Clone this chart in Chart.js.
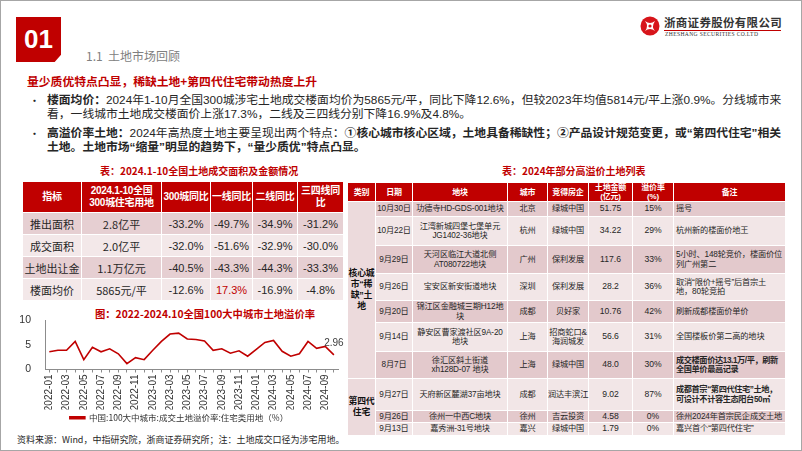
<!DOCTYPE html>
<html>
<head>
<meta charset="utf-8">
<script src="https://cdn.jsdelivr.net/npm/chart.js@4.4.0/dist/chart.umd.min.js"></script>
<style>
body { margin:0; width:802px; height:451px; overflow:hidden; background:#fff;
       font-family:"Noto Sans CJK SC","Noto Sans",sans-serif; color:#262626; }
#slide { position:absolute; left:0; top:0; width:800px; height:449px; border:1px solid #a6a6a6; }
.abs { position:absolute; white-space:nowrap; }
#num { left:16px; top:17px; width:45px; height:45px; background:#c00000; color:#fff;
       font:bold 26px "Liberation Sans",sans-serif; line-height:45px; text-align:center;
       clip-path:polygon(0 0,100% 0,100% 84%,86% 100%,0 100%); }
#sec { left:86px; top:47px; font-size:12px; color:#808080; }
#logoTxt { left:664px; top:14px; font-weight:bold; font-size:11.5px; letter-spacing:0.3px; color:#333; }
#logoLine { left:664px; top:30px; width:117px; height:1px; background:#c00000; }
#logoEn { left:665px; top:31px; font:5.6px "Liberation Serif",serif; letter-spacing:0.35px; color:#333; }
#head { left:27px; top:72px; font-weight:bold; font-size:11.8px; color:#c00000; }
.para { left:47px; font-size:11.8px; line-height:14px; height:14px; font-family:"Liberation Sans","Noto Sans CJK SC",sans-serif; }
.dot { left:29px; font-size:11px; line-height:14px; }
.ttl { font-weight:bold; font-size:10px; color:#c00000; }
table { position:absolute; border-collapse:collapse; table-layout:fixed; }
td, th { padding:0; border:1px solid #fff; text-align:center; }
#t1 { left:22px; top:181px; width:321px; font-family:"Liberation Sans","Noto Sans CJK SC",sans-serif; font-size:11px; }
#t1 th { background:#c00000; color:#fff; font-size:10px; line-height:12px; height:30px; letter-spacing:-0.3px;
         font-family:"Liberation Sans","Noto Sans CJK SC",sans-serif; white-space:nowrap; }
#t1 td { height:21px; }
#t1 td.lab { font-family:"Noto Sans CJK SC",sans-serif; }
#t2 { left:347px; top:182px; width:438px; font-size:8.2px; line-height:9.4px; letter-spacing:-0.15px;
      font-family:"Liberation Sans","Noto Sans CJK SC",sans-serif; }
#t2 th { background:#c00000; color:#fff; font-size:8px; line-height:9px; height:17px; white-space:nowrap; }
#t2 td { white-space:pre; }
#t2 td.note { text-align:left; padding-left:2px; }
#t2 td.cat { background:#ecdadc; font-weight:bold; font-size:8.8px; line-height:11px; color:#111; }
#t2 td.num { font-size:8.6px; letter-spacing:0; }
#chartBox { position:absolute; left:18px; top:308px; width:330px; height:124px; }
#src { left:17px; top:433px; font-size:9px; color:#262626; }
</style>
</head>
<body>
<div id="slide"></div>
<div class="abs" id="num">01</div>
<div class="abs" id="sec">1.1&nbsp;&nbsp;土地市场回顾</div>
<svg class="abs" style="left:640px;top:16px" width="20" height="20" viewBox="0 0 20 20">
  <circle cx="10" cy="10" r="9.5" fill="#d7141a"/>
  <path d="M5 5 Q10 9 15 5 Q11 11 15 15 Q10 11 5 15 Q9 10 5 5Z" fill="#fff"/>
  <circle cx="10" cy="10" r="1.6" fill="#d7141a"/>
</svg>
<div class="abs" id="logoTxt">浙商证券股份有限公司</div>
<div class="abs" id="logoLine"></div>
<div class="abs" id="logoEn">ZHESHANG SECURITIES CO.LTD</div>

<div class="abs" id="head">量少质优特点凸显，稀缺土地+第四代住宅带动热度上升</div>
<div class="abs dot" style="top:93px">•</div>
<div class="abs para" style="top:93px"><b>楼面均价：</b>2024年1-10月全国300城涉宅土地成交楼面均价为5865元/平，同比下降12.6%，但较2023年均值5814元/平上涨0.9%。分线城市来</div>
<div class="abs para" style="top:107px">看，一线城市土地成交楼面价上涨17.3%，二线及三四线分别下降16.9%及4.8%。</div>
<div class="abs dot" style="top:126px">•</div>
<div class="abs para" style="top:126px"><b>高溢价率土地：</b>2024年高热度土地主要呈现出两个特点：<b>①核心城市核心区域，土地具备稀缺性；②产品设计规范变更，或“第四代住宅”相关</b></div>
<div class="abs para" style="top:140px"><b>土地。土地市场“缩量”明显的趋势下，“量少质优”特点凸显。</b></div>

<div class="abs ttl" style="left:100px;top:163px">表：2024.1-10全国土地成交面积及金额情况</div>
<table id="t1"></table>

<div class="abs ttl" style="left:502px;top:163px">表：2024年部分高溢价土地列表</div>
<table id="t2"></table>

<div class="abs ttl" style="left:95px;top:306px;font-size:10.3px">图：2022-2024.10全国100大中城市土地溢价率</div>
<div id="chartBox"><canvas id="chart" width="330" height="124"></canvas></div>
<div class="abs" id="src">资料来源：Wind，中指研究院，浙商证券研究所；注：土地成交口径为涉宅用地。</div>

<script>
// table 1: 2024.1-10 land transactions
var t1Head = ['指标', '2024.1-10全国<br>300城住宅用地', '300城同比', '一线同比', '二线同比', '三四线同<br>比'];
var t1Widths = [59, 80, 49, 42, 45, 46];
var t1Labels = ['推出面积', '成交面积', '土地出让金', '楼面均价'];
var t1Total = ['2.8亿平', '2.0亿平', '1.1万亿元', '5865元/平'];
var t1All = ['-33.2%', '-32.0%', '-40.5%', '-12.6%'];
var t1Tier1 = ['-49.7%', '-51.6%', '-43.3%', '17.3%'];
var t1Tier2 = ['-34.9%', '-32.9%', '-44.3%', '-16.9%'];
var t1Tier34 = ['-31.2%', '-30.0%', '-33.3%', '-4.8%'];

// table 2: high premium land parcels
var t2Head = ['类别', '日期', '地块', '城市', '竞得房企', '土地金额<br>(亿元)', '溢价率<br>(%)', '备注'];
var t2Widths = [28, 37, 95, 40, 41, 44, 41, 112];
var t2Dates = ['10月30日', '10月22日', '9月29日', '9月26日', '9月20日', '9月14日', '8月7日', '9月27日', '9月26日', '9月13日'];
var t2Plots = ['功德寺HD-GDS-001地块', '江湾新城四堡七堡单元\nJG1402-36地块', '天河区临江大道北侧\nAT080722地块', '宝安区新安街道地块',
  '锦江区金融城三期H12地\n块', '静安区曹家渡社区9A-20\n地块', '徐汇区斜土街道\nxh128D-07 地块', '天府新区麓湖37亩地块', '徐州一中西C地块', '嘉秀洲-31号地块'];
var t2Cities = ['北京', '杭州', '广州', '深圳', '成都', '上海', '上海', '成都', '徐州', '嘉兴'];
var t2Buyers = ['绿城中国', '绿城中国', '保利发展', '保利发展', '贝好家', '招商蛇口&\n海润城发', '绿城中国', '润达丰滨江', '吉云投资', '绿城中国'];
var t2Amount = ['51.75', '34.22', '117.6', '28.2', '10.76', '56.6', '48.0', '9.02', '4.58', '1.79'];
var t2Premium = ['15%', '29%', '33%', '36%', '42%', '31%', '30%', '87%', '0%', '0%'];
var t2Notes = ['摇号', '杭州新的楼面价地王', '5小时、148轮竞价，楼面价位\n列广州第二', '取消“限价+摇号”后首宗土\n地，80轮竞拍',
  '刷新成都楼面价单价', '全国楼板价第二高的地块', '成交楼面价达13.1万/平，刷新\n全国单价最高记录',
  '成都首宗“第四代住宅”土地，\n可设计不计容生态阳台50㎡', '徐州2024年首宗民企成交土地', '嘉兴首个“第四代住宅”'];
var t2BoldNotes = [6, 7];
var t2Heights = [15, 29, 28, 27, 22, 29, 27, 32, 12, 13];
var t2Groups = [['核心城\n市“稀\n缺”土\n地', 7], ['第四代\n住宅', 3]];

// chart: land premium rate, 100 cities
var months = ['2022-01','2022-02','2022-03','2022-04','2022-05','2022-06','2022-07','2022-08','2022-09','2022-10','2022-11','2022-12',
  '2023-01','2023-02','2023-03','2023-04','2023-05','2023-06','2023-07','2023-08','2023-09','2023-10','2023-11','2023-12',
  '2024-01','2024-02','2024-03','2024-04','2024-05','2024-06','2024-07','2024-08','2024-09','2024-10'];
var premiumRate = [3.6, 3.9, 3.9, 5.7, 2.0, 4.5, 3.6, 4.2, 3.2, 1.2, 2.4, 2.0,
  3.9, 5.7, 7.2, 7.4, 6.2, 6.1, 5.8, 3.9, 4.2, 3.3, 3.8, 2.7,
  4.1, 5.5, 5.9, 3.7, 2.7, 3.2, 5.7, 4.3, 4.7, 2.96];
var seriesName = '中国:100大中城市:成交土地溢价率:住宅类用地（%）';

var dark = '#e6cfd2', light = '#f3e8e9';

function buildT1() {
    var h = '<colgroup>';
    for (var i = 0; i < t1Widths.length; i++) h += '<col style="width:' + t1Widths[i] + 'px">';
    h += '</colgroup><tr>';
    for (var i = 0; i < t1Head.length; i++) h += '<th>' + t1Head[i] + '</th>';
    h += '</tr>';
    for (var r = 0; r < t1Labels.length; r++) {
        var bg = r % 2 == 0 ? dark : light;
        var cells = [t1Total[r], t1All[r], t1Tier1[r], t1Tier2[r], t1Tier34[r]];
        h += '<tr style="background:' + bg + '"><td class="lab">' + t1Labels[r] + '</td>';
        for (var c = 0; c < cells.length; c++) {
            var red = cells[c].charAt(0) != '-' && c == 2 ? ' style="color:#c00000"' : '';
            h += '<td' + (c == 0 ? ' class="lab"' : '') + red + '>' + cells[c] + '</td>';
        }
        h += '</tr>';
    }
    document.getElementById('t1').innerHTML = h;
}

function buildT2() {
    var h = '<colgroup>';
    for (var i = 0; i < t2Widths.length; i++) h += '<col style="width:' + t2Widths[i] + 'px">';
    h += '</colgroup><tr>';
    for (var i = 0; i < t2Head.length; i++) h += '<th>' + t2Head[i] + '</th>';
    h += '</tr>';
    var g = 0, start = 0;
    for (var r = 0; r < t2Dates.length; r++) {
        var bg = r % 2 == 0 ? '#e3c9cc' : '#f2e6e7';
        h += '<tr style="background:' + bg + ';height:' + t2Heights[r] + 'px">';
        if (r == start) {
            h += '<td class="cat" rowspan="' + t2Groups[g][1] + '">' + t2Groups[g][0] + '</td>';
            start += t2Groups[g][1];
            g++;
        }
        var bold = t2BoldNotes.indexOf(r) >= 0 ? ';font-weight:bold;letter-spacing:-0.4px' : '';
        h += '<td>' + t2Dates[r] + '</td><td>' + t2Plots[r] + '</td><td>' + t2Cities[r] + '</td><td>' + t2Buyers[r] +
             '</td><td class="num">' + t2Amount[r] + '</td><td class="num">' + t2Premium[r] +
             '</td><td class="note" style="color:#262626' + bold + '">' + t2Notes[r] + '</td></tr>';
    }
    document.getElementById('t2').innerHTML = h;
}

buildT1();
buildT2();

// label on the last point
var lastLabel = {
    id: 'lastLabel',
    afterDatasetsDraw: function(chart) {
        var meta = chart.getDatasetMeta(0);
        var pt = meta.data[meta.data.length - 1];
        var c = chart.ctx;
        c.save();
        c.font = '10px "Liberation Sans", sans-serif';
        c.fillStyle = '#404040';
        c.textAlign = 'center';
        c.textBaseline = 'bottom';
        c.fillText(premiumRate[premiumRate.length - 1].toFixed(2), pt.x, pt.y - 7);
        c.restore();
    }
};

var ctx = document.getElementById('chart');
var chart = new Chart(ctx, {
    type: 'line',
    data: {
        labels: months,
        datasets: [{
            label: seriesName,
            data: premiumRate,
            borderColor: '#c00000',
            backgroundColor: '#c00000',
            borderWidth: 1.6,
            pointRadius: 0,
            tension: 0,
            fill: false
        }]
    },
    options: {
        responsive: false,
        animation: false,
        layout: { padding: { top: 0, right: 8, left: 0, bottom: 0 } },
        plugins: {
            legend: {
                position: 'bottom',
                labels: { boxWidth: 15, boxHeight: 2, padding: 4, color: '#333',
                          font: { size: 8.5, family: '"Noto Sans CJK SC", sans-serif' } }
            },
            tooltip: { enabled: false }
        },
        scales: {
            x: {
                offset: true,
                grid: { display: true, drawOnChartArea: false, tickLength: 3, color: '#8c8c8c' },
                border: { color: '#8c8c8c' },
                ticks: {
                    autoSkip: false, maxRotation: 90, minRotation: 90, padding: 2,
                    color: '#333', font: { size: 10, family: '"Liberation Sans", sans-serif' },
                    callback: function(v, i) { return i % 2 == 0 ? this.getLabelForValue(v) : ''; }
                },
                afterFit: function(s) { s.height = 40; }
            },
            y: {
                min: 0, max: 10,
                grid: { display: false },
                border: { display: true, color: '#8c8c8c' },
                ticks: { stepSize: 5, padding: 6, color: '#333', font: { size: 10.5, family: '"Liberation Sans", sans-serif' } },
                afterFit: function(s) { s.width = 27; }
            }
        }
    },
    plugins: [lastLabel]
});
</script>
</body>
</html>
